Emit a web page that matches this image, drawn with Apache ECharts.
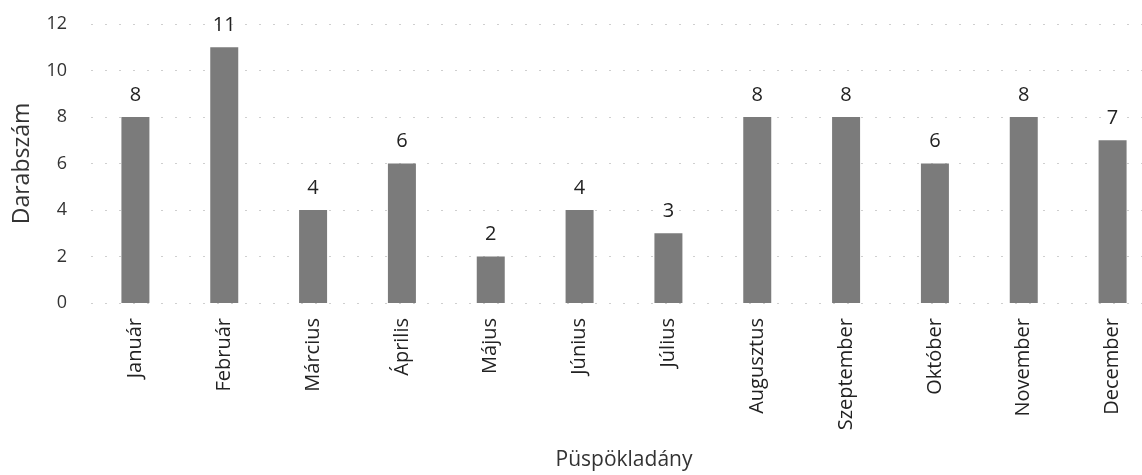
<!DOCTYPE html>
<html>
<head>
<meta charset="utf-8">
<script src="https://cdn.jsdelivr.net/npm/echarts@6/dist/echarts.min.js"></script>
<style>
  html, body { margin: 0; padding: 0; background: #fff; }
  #chart { width: 1142px; height: 475px; }
</style>
</head>
<body>
<div id="chart"></div>
<script>
const months = ['Január', 'Február', 'Március', 'Április', 'Május', 'Június',
  'Július', 'Augusztus', 'Szeptember', 'Október', 'November', 'December']
const counts = [8, 11, 4, 6, 2, 4, 3, 8, 8, 6, 8, 7]
const yTicks = { min: 0, max: 12, interval: 2 }

const font = '"Open Sans", "Noto Sans", sans-serif'

const chart = echarts.init(document.getElementById('chart'))
chart.setOption({
  animation: false,
  textStyle: { fontFamily: font },
  grid: { left: 91, right: -15, top: 24, bottom: 172, outerBoundsMode: 'none' },
  xAxis: {
    type: 'category',
    data: months,
    axisLine: { show: false },
    axisTick: { show: false },
    axisLabel: {
      rotate: 90,
      fontSize: 20,
      color: '#222',
      margin: 15,
      interval: 0
    },
    name: 'Püspökladány',
    nameLocation: 'middle',
    nameGap: 147,
    nameMoveOverlap: false,
    nameTextStyle: { fontSize: 21, color: '#333' }
  },
  yAxis: {
    type: 'value',
    min: yTicks.min,
    max: yTicks.max,
    interval: yTicks.interval,
    axisLabel: { fontSize: 18, color: '#333', margin: 24 },
    axisLine: { show: false },
    axisTick: { show: false },
    splitLine: { lineStyle: { color: '#cfcfcf', type: [2, 12], width: 1 } },
    name: 'Darabszám',
    nameLocation: 'middle',
    nameGap: 57,
    nameMoveOverlap: false,
    nameTextStyle: { fontSize: 23, color: '#333' }
  },
  series: [{
    type: 'bar',
    data: counts,
    barWidth: 28,
    itemStyle: { color: '#7b7b7b' },
    label: { show: true, position: 'top', distance: 12, fontSize: 20, color: '#222' }
  }]
})
</script>
</body>
</html>
